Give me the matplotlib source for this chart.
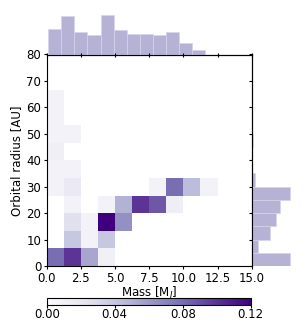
import numpy as np
import matplotlib
matplotlib.use('Agg')
import matplotlib.pyplot as plt

# Bin edges of the 2D histogram
mass_edges = np.linspace(0, 15, 13)
radius_edges = np.linspace(0, 80, 13)

# Fraction of planets per cell (rows = radius bins, cols = mass bins)
frac = np.array([
    [0.080, 0.100, 0.055, 0.012, 0,     0,     0,     0,     0,     0,     0, 0],
    [0,     0.040, 0.010, 0.040, 0,     0,     0,     0,     0,     0,     0, 0],
    [0,     0.025, 0.010, 0.120, 0.065, 0,     0,     0,     0,     0,     0, 0],
    [0,     0.010, 0,     0.010, 0.050, 0.100, 0.088, 0.015, 0,     0,     0, 0],
    [0.010, 0.018, 0,     0,     0,     0,     0.010, 0.080, 0.045, 0.010, 0, 0],
    [0.010, 0.010, 0,     0,     0,     0,     0,     0,     0,     0,     0, 0],
    [0.013, 0,     0,     0,     0,     0,     0,     0,     0,     0,     0, 0],
    [0.010, 0.010, 0,     0,     0,     0,     0,     0,     0,     0,     0, 0],
    [0.010, 0,     0,     0,     0,     0,     0,     0,     0,     0,     0, 0],
    [0.010, 0,     0,     0,     0,     0,     0,     0,     0,     0,     0, 0],
    [0,     0,     0,     0,     0,     0,     0,     0,     0,     0,     0, 0],
    [0,     0,     0,     0,     0,     0,     0,     0,     0,     0,     0, 0],
])

# Marginal histograms
mass_hist_edges = np.linspace(0.12, 11.58, 13)
mass_hist = [25.0, 36.7, 21.7, 19.0, 37.7, 23.3, 19.3, 19.3, 18.7, 21.7, 11.3, 4.0]
radius_hist_edges = np.linspace(0, 60, 13)
radius_hist = [37.3, 6.3, 17.3, 24.0, 27.3, 37.3, 3.3, 0, 0, 1.0, 0, 0]

cbar_ticks = [0.00, 0.04, 0.08, 0.12]

plt.rcParams['font.size'] = 8.5
W, H = 305, 321
fig = plt.figure(figsize=(W / 100, H / 100), dpi=100)

def box(x0, y0, x1, y1):
    # pixel box (top-left origin) -> figure fraction
    return [x0 / W, 1 - y1 / H, (x1 - x0) / W, (y1 - y0) / H]

ax = fig.add_axes(box(46.7, 54.5, 251.7, 266))
ax_top = fig.add_axes(box(46.7, 12, 251.7, 54.5), sharex=ax)
ax_right = fig.add_axes(box(251.7, 54.5, 294, 266), sharey=ax)
cax = fig.add_axes(box(46.7, 297.5, 250.7, 305))

data = np.ma.masked_equal(frac, 0)
mesh = ax.pcolormesh(mass_edges, radius_edges, data, cmap='Purples', vmin=0, vmax=0.12)
ax.set_xlim(0, 15)
ax.set_ylim(0, 80)
ax.set_xticks([0, 2.5, 5, 7.5, 10, 12.5, 15])
ax.set_xticklabels(['0.0', '2.5', '5.0', '7.5', '10.0', '12.5', '15.0'])
ax.set_yticks(range(0, 81, 10))
ax.set_xlabel('Mass [M$_J$]', labelpad=0.5)
ax.set_ylabel('Orbital radius [AU]', labelpad=2)
ax.tick_params(length=2.5, pad=1.5)

hist_color = '#b5b2d6'
ax_top.bar(mass_hist_edges[:-1], mass_hist, width=np.diff(mass_hist_edges), align='edge',
           color=hist_color, edgecolor='#d6d4ea', linewidth=0.5)
ax_top.set_ylim(0, 41)
ax_top.tick_params(axis='x', labelbottom=False, length=2.5, direction='inout')
ax_top.tick_params(axis='y', left=False, labelleft=False)
for s in ['top', 'left', 'right']:
    ax_top.spines[s].set_visible(False)
ax_top.patch.set_alpha(0)

ax_right.barh(radius_hist_edges[:-1], radius_hist, height=np.diff(radius_hist_edges), align='edge',
              color=hist_color, edgecolor='#d6d4ea', linewidth=0.5)
ax_right.set_xlim(0, 41)
ax_right.tick_params(axis='y', labelleft=False, length=2.5)
ax_right.tick_params(axis='x', bottom=False, labelbottom=False)
for s in ['top', 'bottom', 'right']:
    ax_right.spines[s].set_visible(False)
ax_right.patch.set_alpha(0)

cb = fig.colorbar(mesh, cax=cax, orientation='horizontal', ticks=cbar_ticks)
cb.ax.set_xticklabels(['0.00', '0.04', '0.08', '0.12'])
cb.ax.tick_params(length=2, pad=0.5)

fig.savefig('out.png', dpi=100)
